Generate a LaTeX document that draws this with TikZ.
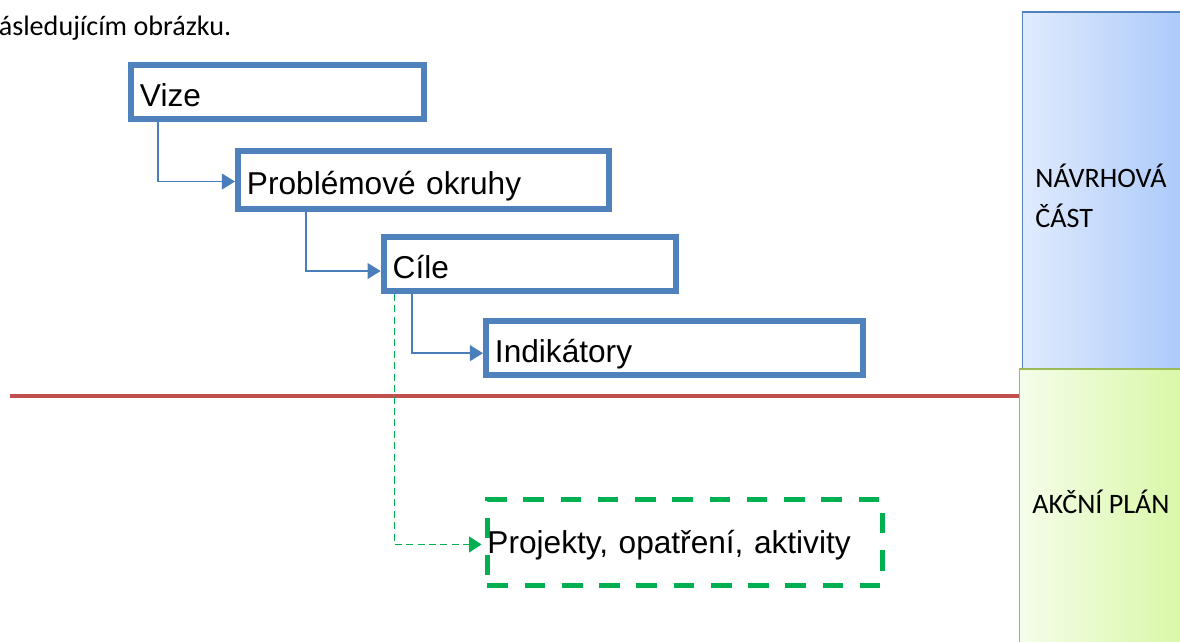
\documentclass[tikz,border=0pt]{standalone}
\usepackage{fontspec}
\setmainfont{Liberation Sans}
\newfontfamily\calibri{Carlito}
\usepackage{xcolor}
\usepackage{tikz}
\usetikzlibrary{positioning,arrows.meta,calc}
\definecolor{boxblue}{HTML}{4F81BD}
\definecolor{linkblue}{HTML}{4A7EBB}
\definecolor{actgreen}{HTML}{00B050}
\definecolor{cutred}{HTML}{C0504D}
\definecolor{navrhleft}{HTML}{E0EBFD}
\definecolor{navrhright}{HTML}{A6C6FA}
\definecolor{akcleft}{HTML}{F4FDEA}
\definecolor{akcright}{HTML}{D7F7A0}
\definecolor{akcborder}{HTML}{9BBB59}
\tikzset{
	stage/.style = {draw=boxblue, line width=3.4pt, fill=white, anchor=north west, inner xsep=0.18cm, text height=16.9pt, text depth=0pt, align=left, font=\fontsize{18}{21.6}\selectfont},
	action/.style = {draw=actgreen, line width=2.8pt, dash pattern=on 11.7pt off 9.5pt, anchor=north west, inner xsep=0pt, text height=12.9pt, text depth=0pt, align=left, font=\fontsize{18}{21.6}\selectfont},
	link/.style = {draw=linkblue, line width=1pt, -{Triangle[length=7.5pt, width=9pt]}},
	actlink/.style = {draw=actgreen, line width=0.7pt, dash pattern=on 4pt off 2.5pt, -{Triangle[length=7pt, width=9pt]}, shorten >=0.07cm},
	cutline/.style = {draw=cutred, line width=2.2pt},
	part/.style = {anchor=north west, line width=0.8pt, minimum width=3.6cm, inner sep=0pt},
	partlabel/.style = {inner sep=0pt, anchor=base west, font=\calibri\fontsize{16}{19}\selectfont},
	intro/.style = {inner sep=0pt, font=\calibri\fontsize{16}{19}\selectfont}
}

\begin{document}
\begin{tikzpicture}[x=0.02cm, y=-0.02cm]
	\useasboundingbox (0,0) rectangle (1180,642);
	
	\node [intro, anchor=base west] (uvod) at (-1.5,35.5) {ásledujícím obrázku.};
	
	\coordinate (cut) at (10,396);
	
	% panely vpravo
	\node [part, draw=boxblue, left color=navrhleft, right color=navrhright, minimum height=7.33cm] (navrh) at (1021.6,11.5) {};
	\node [partlabel, right=0.27cm of navrh.west, anchor=base west, yshift=0.15cm] (navrhtext) {NÁVRHOVÁ};
	\node [partlabel, right=0.27cm of navrh.west, anchor=base west, yshift=-0.65cm] (castext) {ČÁST};
	\node [part, draw=akcborder, left color=akcleft, right color=akcright, minimum height=5.64cm] (akcni) at (1018.6,368.3) {};
	\node [partlabel, right=0.27cm of akcni.west, anchor=base west, yshift=-0.08cm] (akcnitext) {AKČNÍ PLÁN};
	
	\draw [cutline] (cut) -- (cut -| akcni.west);
	
	% schody
	\node [stage, minimum width=5.86cm, text width=5.5cm, minimum height=1.08cm] (vize) at (128,61.7) {Vize};
	\node [stage, minimum width=7.43cm, text width=7.07cm, minimum height=1.15cm] (probl) at (235,148.3) {Problémové okruhy};
	\node [stage, minimum width=5.85cm, text width=5.49cm, minimum height=1.07cm] (cile) at (380.7,234.3) {Cíle};
	\node [stage, minimum width=7.54cm, text width=7.18cm, minimum height=1.08cm] (indik) at (483,317.7) {Indikátory};
	\node [action, minimum width=7.9cm, text width=7.9cm, minimum height=1.72cm] (akce) at (485,497) {Projekty, opatření, aktivity};
	
	\draw [link] ([xshift=0.6cm]vize.south west) |- ([yshift=-0.03cm]probl.west);
	\draw [link] ([xshift=1.42cm]probl.south west) |- ([yshift=-0.14cm]cile.west);
	\draw [link] ([xshift=0.62cm]cile.south west) |- ([yshift=-0.11cm]indik.west);
	\draw [actlink] ([xshift=0.27cm]cile.south west) |- ([yshift=-0.04cm]akce.west);
\end{tikzpicture}
\end{document}
